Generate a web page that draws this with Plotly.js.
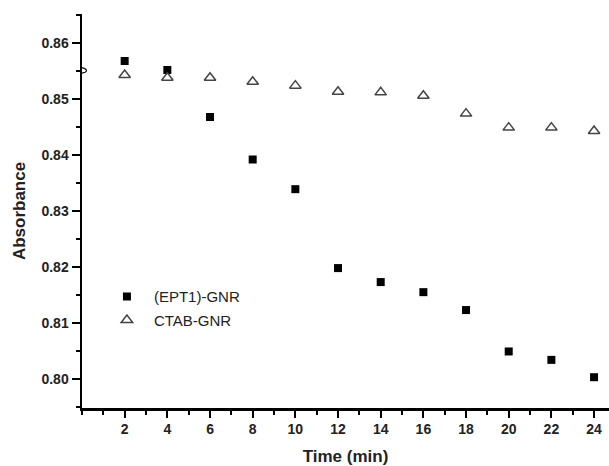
<!DOCTYPE html>
<html>
<head>
<meta charset="utf-8">
<script src="https://cdn.plot.ly/plotly-3.0.1.min.js"></script>
<style>html,body{margin:0;padding:0;background:#fff}#chart{width:609px;height:466px}</style>
</head>
<body>
<div id="chart"></div>
<script>
const times = [2, 4, 6, 8, 10, 12, 14, 16, 18, 20, 22, 24];
const eptGnr = [0.8568, 0.8552, 0.8468, 0.8392, 0.8339, 0.8198, 0.8173, 0.8155, 0.8123, 0.8049, 0.8034, 0.8003];
const ctabGnr = [0.8543, 0.8538, 0.8538, 0.8531, 0.8524, 0.8513, 0.8512, 0.8506, 0.8474, 0.8449, 0.8449, 0.8443];
const seriesNames = ['(EPT1)-GNR', 'CTAB-GNR'];
const xTicks = [2, 4, 6, 8, 10, 12, 14, 16, 18, 20, 22, 24];
const yTicks = [0.80, 0.81, 0.82, 0.83, 0.84, 0.85, 0.86];

const traces = [
  {x: times, y: eptGnr, name: seriesNames[0], type: 'scatter', mode: 'markers', legendgroup: 'a',
   marker: {symbol: 'square', size: 8, color: '#000'}},
  {x: times, y: ctabGnr, name: seriesNames[1], type: 'scatter', mode: 'markers', legendgroup: 'b',
   marker: {symbol: 'triangle-up-open', size: 10, color: '#444', line: {width: 1.5, color: '#444'}}}
];

const axisFont = {family: 'Arial, Liberation Sans, sans-serif', size: 14, color: '#222', weight: 'bold'};
const layout = {
  width: 609, height: 466,
  margin: {l: 82, r: 0, t: 14, b: 58},
  paper_bgcolor: '#fff', plot_bgcolor: '#fff',
  showlegend: true,
  legend: {x: 0.034, y: 0.253, xanchor: 'left', yanchor: 'middle', traceorder: 'grouped', tracegroupgap: 1,
           itemwidth: 44,
           font: {family: 'Arial, Liberation Sans, sans-serif', size: 15, color: '#222'}, bgcolor: 'rgba(0,0,0,0)'},
  xaxis: {
    range: [0, 24.7], tickvals: xTicks, ticktext: xTicks.map(String),
    ticks: 'outside', ticklen: 7, tickwidth: 2, tickcolor: '#000',
    showline: true, linecolor: '#000', linewidth: 2.5, showgrid: false, zeroline: false,
    tickfont: axisFont,
    minor: {dtick: 1, tick0: 1, ticks: 'outside', ticklen: 4, tickwidth: 2, tickcolor: '#000', showgrid: false},
    title: {text: 'Time (min)', font: {family: 'Arial, Liberation Sans, sans-serif', size: 17, color: '#222', weight: 'bold'}, standoff: 15}
  },
  yaxis: {
    range: [0.7948, 0.8652], tickvals: yTicks, ticktext: yTicks.map(v => v.toFixed(2)),
    ticks: 'outside', ticklen: 8, tickwidth: 2, tickcolor: '#000',
    showline: true, linecolor: '#000', linewidth: 2.5, showgrid: false, zeroline: false,
    tickfont: axisFont,
    minor: {dtick: 0.005, tick0: 0.795, ticks: 'outside', ticklen: 4, tickwidth: 2, tickcolor: '#000', showgrid: false},
    title: {text: 'Absorbance', font: {family: 'Arial, Liberation Sans, sans-serif', size: 17, color: '#222', weight: 'bold'}, standoff: 12}
  },
  shapes: [
    {type: 'path', xref: 'paper', yref: 'paper', layer: 'above',
     path: 'M 0.0 0.850 L 0.006 0.852 Q 0.012 0.858 0.004 0.862 L 0.0 0.864',
     line: {color: '#111', width: 1.2}}
  ]
};

Plotly.newPlot('chart', traces, layout, {displayModeBar: false, staticPlot: true});
</script>
</body>
</html>
